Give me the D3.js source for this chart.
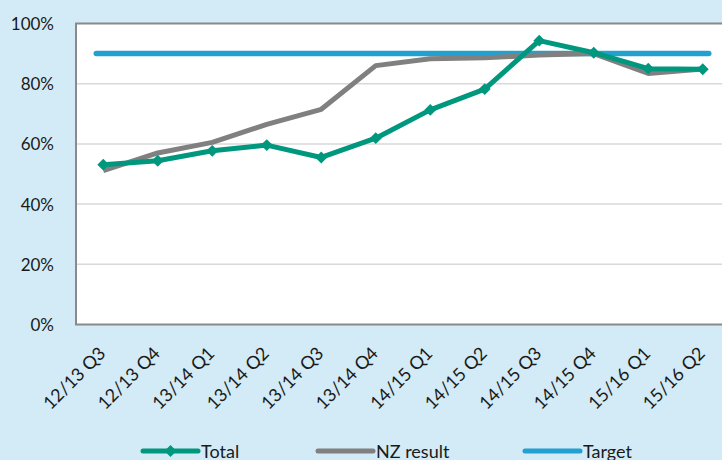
<html>
<head>
<meta charset="utf-8">
<script src="https://d3js.org/d3.v7.min.js"></script>
<style>
body { margin: 0; background: #d2ebf6; }
text { font-family: Lato, "Open Sans", sans-serif; fill: #1a1a1a; }
</style>
</head>
<body>
<svg width="722" height="460"></svg>
<script>
// chart data
var quarters = ["12/13 Q3", "12/13 Q4", "13/14 Q1", "13/14 Q2", "13/14 Q3", "13/14 Q4",
                "14/15 Q1", "14/15 Q2", "14/15 Q3", "14/15 Q4", "15/16 Q1", "15/16 Q2"];
var total    = [53.1, 54.4, 57.7, 59.6, 55.5, 61.9, 71.3, 78.2, 94.3, 90.3, 85.0, 84.8];
var nzResult = [51.1, 57.0, 60.5, 66.5, 71.5, 86.0, 88.3, 88.6, 89.5, 90.0, 83.4, 84.9];
var target   = 90;
var yTicks   = [0, 20, 40, 60, 80, 100];

var teal = "#00977f", grey = "#808080", blue = "#22a0d0";

var svg = d3.select("svg");

svg.append("rect")
    .attr("width", 722).attr("height", 460)
    .attr("fill", "#d2ebf6");

// plot area (runs past the right edge, as in the original)
var plotLeft = 76, plotRight = 730, plotTop = 23.5, plotBottom = 324.5;

var x = d3.scalePoint()
    .domain(quarters)
    .range([plotLeft, plotRight])
    .padding(0.5);

var y = d3.scaleLinear()
    .domain([0, 100])
    .range([plotBottom, plotTop]);

svg.append("rect")
    .attr("x", plotLeft).attr("y", plotTop)
    .attr("width", plotRight - plotLeft).attr("height", plotBottom - plotTop)
    .attr("fill", "white");

// gridlines
svg.append("g")
    .selectAll("line")
    .data(yTicks.slice(1, -1))
    .enter().append("line")
    .attr("x1", plotLeft).attr("x2", plotRight)
    .attr("y1", d => y(d)).attr("y2", d => y(d))
    .attr("stroke", "#d9d9d9")
    .attr("stroke-width", 1.5);

svg.append("rect")
    .attr("x", plotLeft).attr("y", plotTop)
    .attr("width", plotRight - plotLeft).attr("height", plotBottom - plotTop)
    .attr("fill", "none")
    .attr("stroke", "#8a8a8a")
    .attr("stroke-width", 2);

// y axis labels
var yAxis = svg.append("g")
    .attr("transform", "translate(" + (plotLeft - 22) + ",0)")
    .call(d3.axisLeft(y).tickValues(yTicks).tickSize(0).tickPadding(0).tickFormat(d => d + "%"));
yAxis.select(".domain").remove();
yAxis.selectAll("text")
    .style("font-size", "17px")
    .attr("fill", "#1a1a1a")
    .attr("dy", "0.35em");

// x axis labels, rotated
var xAxis = svg.append("g")
    .attr("transform", "translate(0," + (plotBottom + 10) + ")")
    .call(d3.axisBottom(x).tickSize(0).tickPadding(0));
xAxis.select(".domain").remove();
xAxis.selectAll("text")
    .style("font-size", "18px")
    .attr("fill", "#1a1a1a")
    .attr("text-anchor", "end")
    .attr("dy", "0")
    .attr("transform", "translate(3,20) rotate(-45)");

var line = d3.line()
    .x((d, i) => x(quarters[i]))
    .y(d => y(d));

// target
svg.append("line")
    .attr("x1", x(quarters[0]) - 7)
    .attr("x2", x(quarters[quarters.length - 1]) + 6)
    .attr("y1", y(target)).attr("y2", y(target))
    .attr("stroke", blue)
    .attr("stroke-width", 5.5)
    .attr("stroke-linecap", "round");

// NZ result
svg.append("path")
    .datum(nzResult)
    .attr("fill", "none")
    .attr("stroke", grey)
    .attr("stroke-width", 5)
    .attr("stroke-linejoin", "round")
    .attr("d", line);

// Total
svg.append("path")
    .datum(total)
    .attr("fill", "none")
    .attr("stroke", teal)
    .attr("stroke-width", 5)
    .attr("stroke-linejoin", "round")
    .attr("d", line);

var diamond = d3.symbol().type(d3.symbolDiamond2).size(90);
svg.append("g")
    .selectAll("path")
    .data(total)
    .enter().append("path")
    .attr("d", diamond)
    .attr("transform", (d, i) => "translate(" + x(quarters[i]) + "," + y(d) + ")")
    .attr("fill", teal);

// legend
var legendItems = [
    {name: "Total", color: teal, x: 143, marker: true},
    {name: "NZ result", color: grey, x: 318, marker: false},
    {name: "Target", color: blue, x: 525, marker: false}
];
var legend = svg.append("g")
    .selectAll("g")
    .data(legendItems)
    .enter().append("g")
    .attr("transform", d => "translate(" + d.x + ",451)");
legend.append("line")
    .attr("x1", 0).attr("x2", 55)
    .attr("stroke", d => d.color)
    .attr("stroke-width", 5)
    .attr("stroke-linecap", "round");
legend.filter(d => d.marker).append("path")
    .attr("d", diamond)
    .attr("transform", "translate(27.5,0)")
    .attr("fill", teal);
legend.append("text")
    .attr("x", 58)
    .attr("y", 7)
    .style("font-size", "18px")
    .text(d => d.name);
</script>
</body>
</html>
